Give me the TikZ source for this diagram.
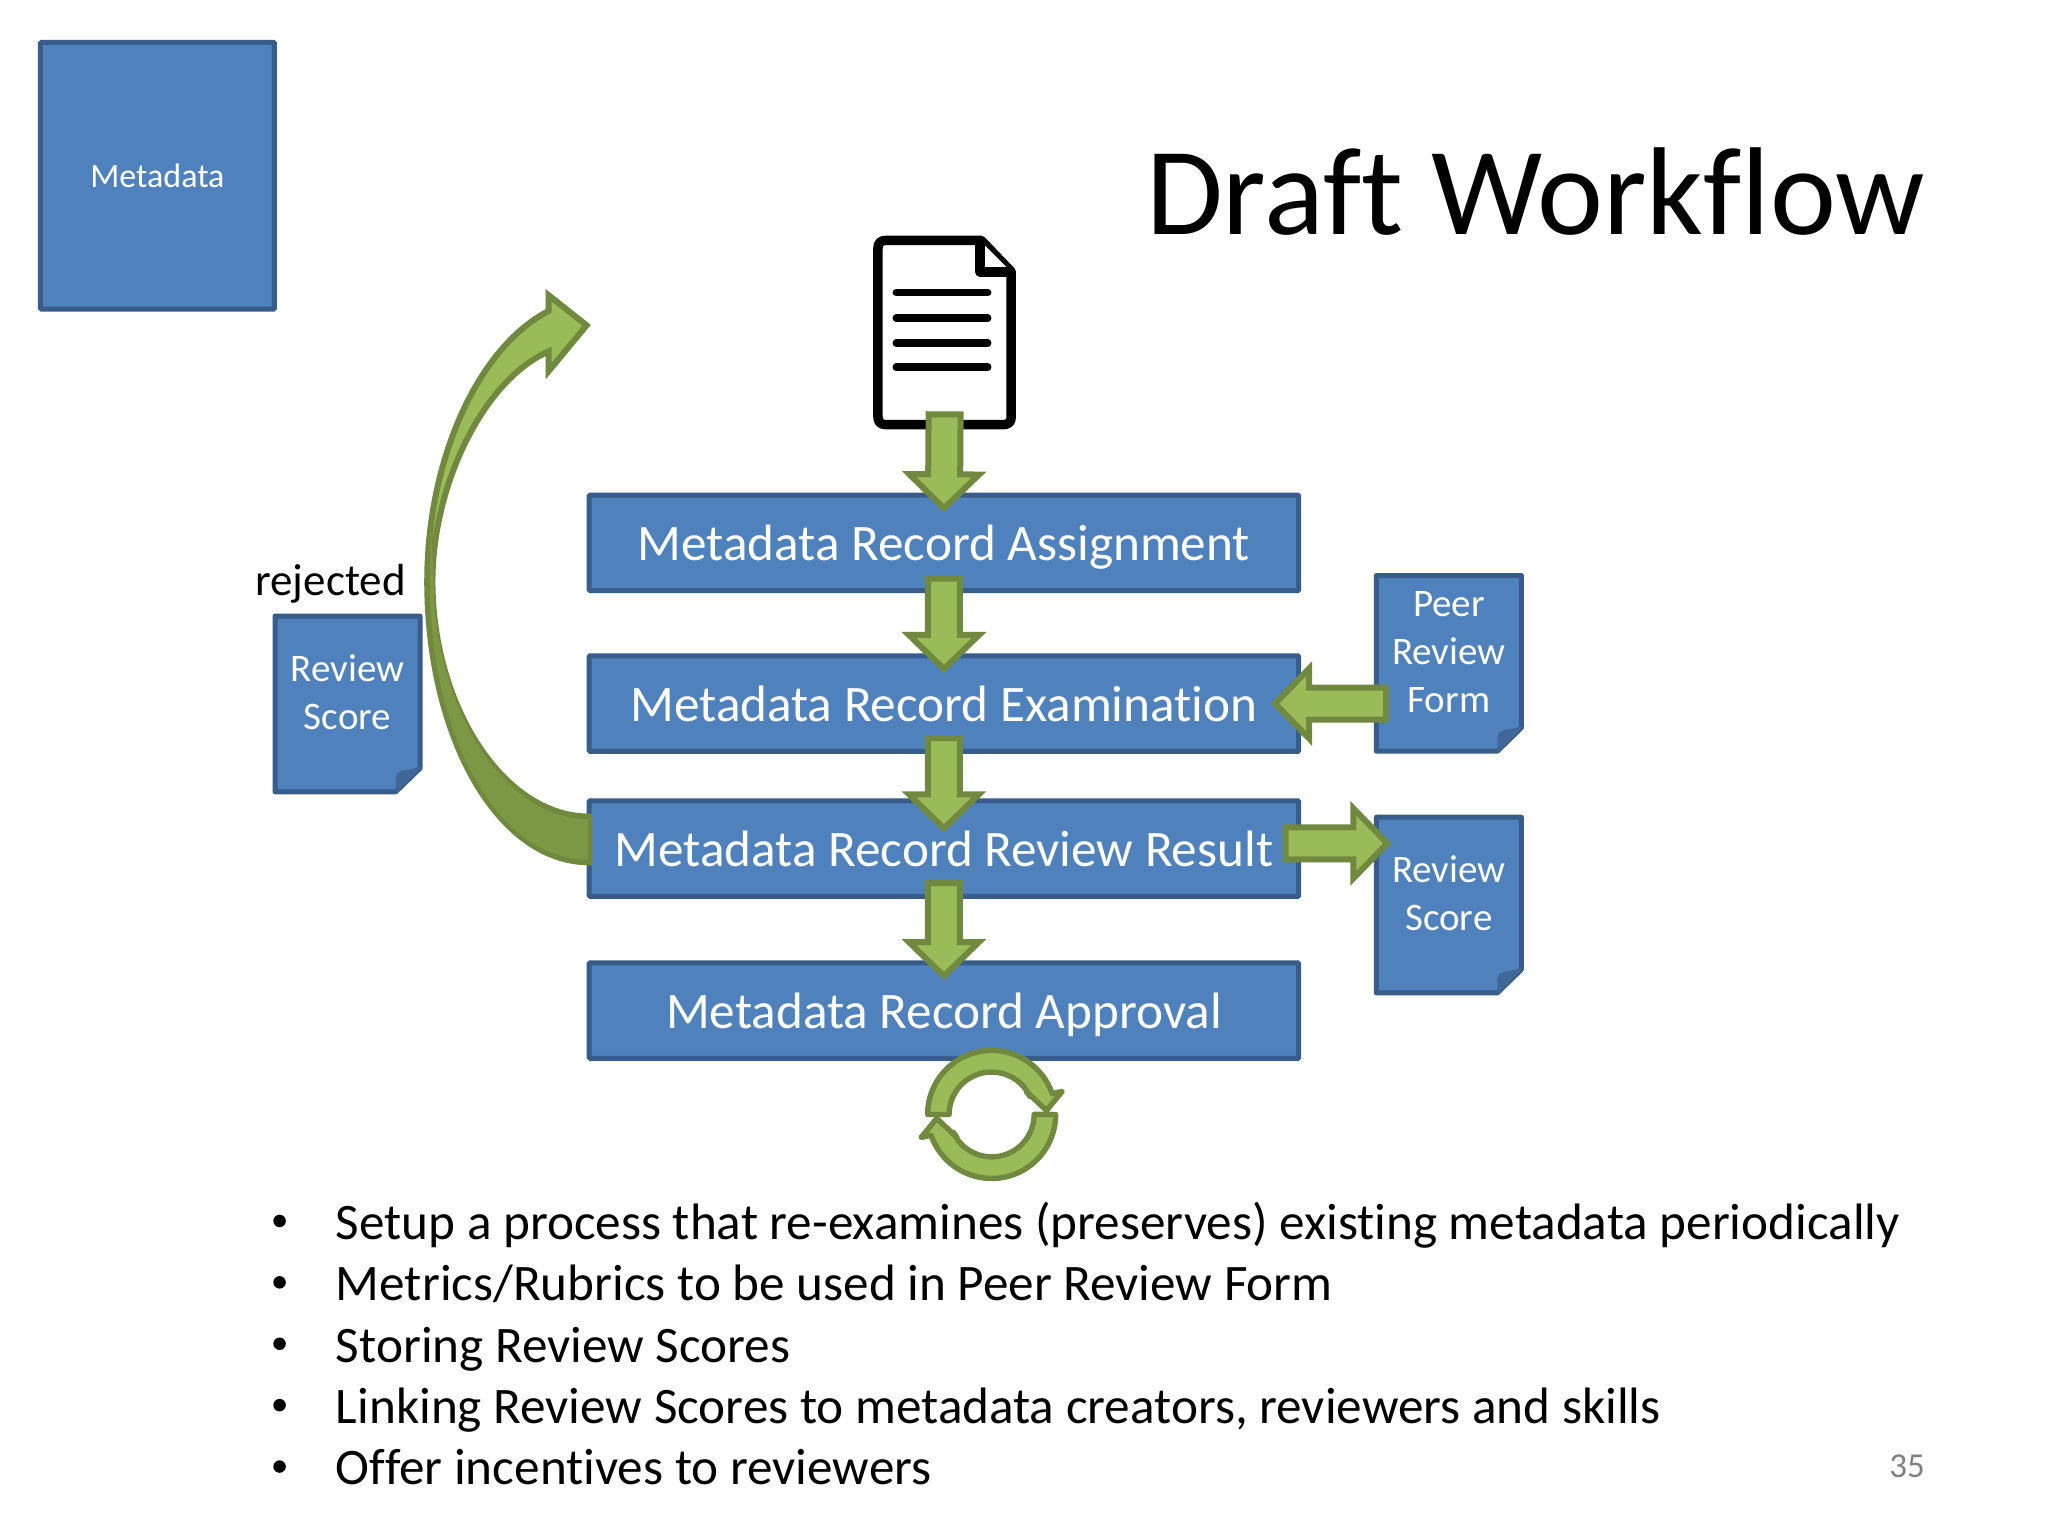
\documentclass[tikz,border=0pt]{standalone}
\usepackage{fontspec}
\setmainfont{Carlito}[Ligatures=NoCommon]
\usetikzlibrary{calc}
\definecolor{boxfill}{HTML}{4F81BD}
\definecolor{boxline}{HTML}{385D8A}
\definecolor{foldc}{HTML}{3F6797}
\definecolor{gfill}{HTML}{9BBB59}
\definecolor{gline}{HTML}{71893F}
\definecolor{gdark}{HTML}{7C9845}
\tikzset{
  x=1.3065pt,y=-1.3065pt,
  box/.style={draw=boxline,fill=boxfill,line width=5pt,rounded corners=1pt,text=white,
    minimum width=545*1.3065pt-2.5pt,minimum height=75*1.3065pt-2.5pt,inner sep=0pt,
    text height=50pt,text depth=14pt,
    font=\fontsize{51.2}{60}\selectfont},
  metabox/.style={box,minimum width=181*1.3065pt-2.5pt,minimum height=206*1.3065pt-2.5pt,
    text height=34pt,text depth=10pt,font=\fontsize{34}{40}\selectfont},
  page/.style={draw=boxline,fill=boxfill,line width=5pt,line join=round},
  pageframe/.style={minimum width=114*1.3065pt,minimum height=137.5*1.3065pt,inner sep=0pt},
  fold/.style={fill=foldc},
  pagetext/.style={text=white,align=center,inner sep=0pt,font=\fontsize{39}{48}\selectfont},
  garrow/.style={draw=gline,fill=gfill,line width=6pt,miter limit=10},
  cyc/.style={draw=gline,fill=gfill,line width=5.4pt,line join=round},
  doc/.style={draw=black,fill=white,line width=9.5pt,line join=round},
  docline/.style={draw=black,line width=7.5pt,line cap=round},
  bullettext/.style={anchor=base west,inner sep=0pt,font=\fontsize{51.2}{60}\selectfont},
  bulletdot/.style={circle,fill=black,minimum size=12.5pt,inner sep=0pt},
}
\newcommand{\blockarrow}[2]{%
  \coordinate (s) at (#1);\coordinate (e) at (#2);
  \coordinate (h) at ($(e)!34pt!(s)$);
  \draw[garrow] ($(s)!16pt!90:(e)$) -- ($(h)!16pt!90:(e)$) -- ($(h)!35pt!90:(e)$) -- (e)
    -- ($(h)!35pt!-90:(e)$) -- ($(h)!16pt!-90:(e)$) -- ($(s)!16pt!-90:(e)$) -- cycle;}
\newcommand{\foldpage}[4]{% name, left x, top y, text
  \begin{scope}[shift={(#2,#3)}]
    \draw[page] (1.5,1.5) -- (112.5,1.5) -- (112.5,118) -- (94,136) -- (1.5,136) -- cycle;
    \fill[fold] (94.5,137) -- (94,125) .. controls (95,121) and (97,120) .. (99,120) -- (114,117) -- cycle;
    \node[pageframe] (#1) at (57,68.75) {};
    \node[pagetext] (#1t) at (57,60) {#4};
  \end{scope}}
\newcommand{\cyclearc}{%
  \draw[cyc] (-49,0) arc (180:19:49) -- (54,17.6) -- (42,3) -- (26.5,17.6) -- (29.4,13.7) arc (25:180:32.5) -- cycle;}
\begin{document}
\begin{tikzpicture}
\useasboundingbox (0,0) rectangle (1567.55,1175.66);
\fill[white] (0,0) rectangle (1567.55,1175.66);

\node[metabox] (meta) at (120.5,134.5) {Metadata};
\node[anchor=base west,inner sep=0pt,font=\fontsize{125}{140}\selectfont] (title) at (877,179.5) {Draft Workflow};

% main boxes
\node[box] (assign) at (722.5,415.5) {Metadata Record Assignment};
\node[box] (exam) at (722.5,538.5) {Metadata Record Examination};
\node[box] (result) at (722.5,649.5) {Metadata Record Review Result};
\node[box] (approve) at (722.5,773.5) {Metadata Record Approval};

% side pages
\foldpage{peer}{1052}{439}{Peer\\Review\\Form}
\foldpage{scoreR}{1052}{624}{Review\\Score}
\foldpage{scoreL}{209}{470}{Review\\Score}
\node[anchor=base,inner sep=0pt,font=\fontsize{45}{54}\selectfont] (rej) at (253,455.5) {rejected};

% document icon
\node[minimum width=102*1.3065pt,minimum height=141*1.3065pt,inner sep=0pt] (docu) at (723,254.5) {};
\draw[doc] (751,184) -- (678,184) .. controls (674,184) and (672,186) .. (672,190)
  -- (672,319) .. controls (672,323) and (674,325) .. (678,325) -- (768,325)
  .. controls (772,325) and (774,323) .. (774,319) -- (774,208) -- cycle;
\draw[doc,fill=white] (750,184) -- (750,208) -- (774,208);
\draw[docline] (686,224) -- (756,224);
\draw[docline] (686,243.5) -- (756,243.5);
\draw[docline] (686,262.5) -- (756,262.5);
\draw[docline] (686,281) -- (756,281);

% block arrows
\blockarrow{$(docu.south)+(0,-8)$}{$(assign.north)+(0,12)$}
\blockarrow{$(assign.south)+(0,-11)$}{$(exam.north)+(0,12)$}
\blockarrow{$(exam.south)+(0,-12)$}{$(result.north)+(0,23)$}
\blockarrow{$(result.south)+(0,-12)$}{$(approve.north)+(0,12)$}
\blockarrow{$(peer.west |- exam.east)+(9,0)$}{$(exam.east)+(-20,0)$}
\blockarrow{$(result.east)+(-12,-4)$}{$(scoreR.west |- result.east)+(10,-4)$}

% curved arrow
\draw[garrow] (451,660) .. controls (381,660) and (327,564) .. (327,445)
  .. controls (327,350) and (367,265) .. (420,238) -- (420,226) -- (449,249) -- (420,284) -- (420,269)
  .. controls (371,290) and (331,370) .. (331,445)
  .. controls (331,540) and (385,625) .. (451,625) -- cycle;
\fill[gdark] (450,658) .. controls (381,658) and (329,564) .. (329,445) -- (329.5,400) -- (332,445)
  .. controls (332,540) and (385,627) .. (450,627) -- cycle;

% cycle icon
\begin{scope}[shift={(759,853)},x=1.3065pt,y=1.3065pt]
  \cyclearc
  \begin{scope}[rotate=180]\cyclearc\end{scope}
\end{scope}

% bullets
\foreach \yy/\nm/\tx in {948.5/b1/{Setup a process that re-examines (preserves) existing metadata periodically},
  995.5/b2/{Metrics/Rubrics to be used in Peer Review Form},
  1042.5/b3/{Storing Review Scores},
  1089.5/b4/{Linking Review Scores to metadata creators, reviewers and skills},
  1136.5/b5/{Offer incentives to reviewers}}{
  \node[bullettext] (\nm) at (257,\yy) {\tx};
  \node[bulletdot] (dot\nm) at (214,\yy-14) {};
}
\node[anchor=base east,inner sep=0pt,text=black!50,font=\fontsize{35}{42}\selectfont] (num) at (1473.5,1131) {35};
\end{tikzpicture}
\end{document}
